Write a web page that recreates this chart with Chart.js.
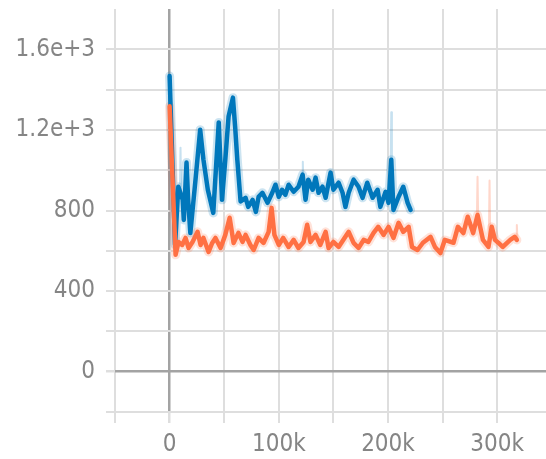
<!DOCTYPE html>
<html>
<head>
<meta charset="utf-8">
<script src="https://cdn.jsdelivr.net/npm/chart.js@4.4.0/dist/chart.umd.min.js"></script>
<style>
  html, body { margin: 0; padding: 0; background: #fff; overflow: hidden; }
  #wrap { width: 546px; height: 459px; }
</style>
</head>
<body>
<div id="wrap"><canvas id="chart" width="546" height="459"></canvas></div>
<script>
// steps are in thousands
const blueSteps = [0, 5, 8, 12, 13, 15.5, 17, 19, 24, 28, 31, 35, 40, 45, 48, 51, 54, 58, 60, 62,
  65, 69.6, 72, 76, 79, 81.5, 85, 89.7, 94, 97, 100, 103, 106, 109, 113.6, 118, 121.8, 124.5, 127, 131,
  133.7, 136.4, 140, 142.9, 147.4, 150, 154.8, 158.4, 161, 164, 168.5, 173, 176.7, 181, 185.9, 190.5,
  193, 197.8, 200.5, 203, 205, 209.7, 214, 218, 220.7];
const blueValues = [1467, 630, 918, 853, 753, 1038, 853, 688, 968, 1201, 1052, 903, 788, 1237, 853, 1052, 1266, 1360,
  1216, 1052, 845, 863, 818, 853, 793, 868, 888, 838, 888, 928, 868, 903, 878, 928, 893, 918, 978, 853, 953, 903,
  963, 888, 918, 863, 988, 903, 938, 888, 818, 888, 953, 918, 863, 938, 863, 903, 818, 893, 838, 1052, 803, 868,
  918, 838, 803];

const orangeSteps = [0, 5.5, 8.2, 11.5, 14.6, 17.4, 21, 25.6, 28.4, 31, 35.7, 39, 42, 46.7, 51, 55, 58.6, 63, 66.8,
  69.6, 74, 77, 81.5, 86, 90.7, 93.4, 96, 100, 104, 109, 113.6, 118, 122.7, 126, 129, 133.7, 138, 142.9, 145.6,
  150, 154.8, 159, 164, 168.5, 173, 177.7, 182, 186.8, 191, 196, 200.5, 205, 209.7, 214, 218.9, 222, 227, 232,
  239, 243, 248, 252, 260, 264, 269, 273, 278, 282, 287, 292, 295, 298, 301, 305, 312, 316, 318];
const orangeValues = [1317, 580, 644, 629, 664, 614, 644, 694, 629, 664, 594, 639, 664, 614, 679, 764, 639, 689, 644,
  679, 629, 604, 664, 639, 694, 813, 679, 629, 664, 619, 654, 614, 644, 729, 644, 679, 629, 694, 614, 644, 619,
  654, 694, 639, 614, 654, 644, 689, 719, 679, 719, 664, 739, 694, 719, 619, 604, 640, 669, 619, 589, 654, 640,
  719, 688, 769, 688, 778, 654, 619, 719, 654, 640, 619, 654, 669, 654];

// faint raw spikes: step, base, peak
const blueSpikeSteps = [10, 122, 203];
const blueSpikeBase = [900, 930, 1000];
const blueSpikePeak = [1112, 1042, 1287];
const orangeSpikeSteps = [282, 293, 318];
const orangeSpikeBase = [760, 680, 650];
const orangeSpikePeak = [968, 949, 728];

const xGridValues = [-50000, 0, 50000, 100000, 150000, 200000, 250000, 300000];
const yGridValues = [-200, 0, 200, 400, 600, 800, 1000, 1200, 1400, 1600];
const yLabelValues = [0, 400, 800, 1200, 1600];
const yLabelTexts = ['0', '400', '800', '1.2e+3', '1.6e+3'];
const xLabelValues = [0, 100000, 200000, 300000];
const xLabelTexts = ['0', '100k', '200k', '300k'];

function toPoints(steps, values) {
  return steps.map((s, i) => ({ x: s * 1000, y: values[i] }));
}

function toSpikes(steps, base, peak) {
  const pts = [];
  steps.forEach((s, i) => {
    pts.push({ x: (s - 0.6) * 1000, y: base[i] });
    pts.push({ x: s * 1000, y: peak[i] });
    pts.push({ x: (s + 0.6) * 1000, y: base[i] });
    pts.push({ x: (s + 0.7) * 1000, y: null });
  });
  return pts;
}

const gridLight = '#dedede';
const gridZero = '#a3a3a3';
const labelFont = { family: "'DejaVu Sans Condensed', 'Liberation Sans Narrow', 'DejaVu Sans'", size: 24 };

function lineSet(data, color, width, order) {
  return {
    data: data,
    borderColor: color,
    borderWidth: width,
    pointRadius: 0,
    spanGaps: false,
    borderJoinStyle: 'round',
    borderCapStyle: 'round',
    order: order
  };
}

new Chart(document.getElementById('chart'), {
  type: 'line',
  data: {
    datasets: [
      lineSet(toSpikes(blueSpikeSteps, blueSpikeBase, blueSpikePeak), 'rgba(0,119,187,0.22)', 2, 6),
      lineSet(toSpikes(orangeSpikeSteps, orangeSpikeBase, orangeSpikePeak), 'rgba(255,112,67,0.28)', 2, 5),
      // soft halo standing in for the noisy raw curve
      lineSet(toPoints(blueSteps, blueValues), 'rgba(0,119,187,0.2)', 9, 4),
      lineSet(toPoints(orangeSteps, orangeValues), 'rgba(255,112,67,0.2)', 9, 3),
      lineSet(toPoints(blueSteps, blueValues), '#0077bb', 4.5, 2),
      lineSet(toPoints(orangeSteps, orangeValues), '#ff7043', 4.5, 1)
    ]
  },
  options: {
    responsive: false,
    animation: false,
    layout: { padding: { top: 9, left: 0, right: 0, bottom: 0 } },
    plugins: { legend: { display: false }, tooltip: { enabled: false } },
    scales: {
      x: {
        type: 'linear',
        min: -50000,
        max: 344700,
        border: { display: false },
        grid: {
          color: ctx => (ctx.tick && ctx.tick.value === 0 ? gridZero : gridLight),
          lineWidth: ctx => (ctx.tick && ctx.tick.value === 0 ? 2.5 : 2),
          tickColor: gridLight,
          tickLength: 11
        },
        ticks: {
          autoSkip: false,
          maxRotation: 0,
          padding: 7,
          color: '#858585',
          font: labelFont,
          callback: v => {
            const i = xLabelValues.indexOf(v);
            return i >= 0 ? xLabelTexts[i] : '';
          }
        },
        afterBuildTicks: scale => {
          scale.ticks = xGridValues.map(v => ({ value: v }));
        },
        afterFit: scale => {
          scale.height = 47;
          scale.paddingLeft = 0;
          scale.paddingRight = 0;
        }
      },
      y: {
        min: -200,
        max: 1800,
        border: { display: false },
        grid: {
          color: ctx => (ctx.tick && ctx.tick.value === 0 ? gridZero : gridLight),
          lineWidth: ctx => (ctx.tick && ctx.tick.value === 0 ? 2.5 : 2),
          tickColor: gridLight,
          tickLength: 9
        },
        ticks: {
          padding: 11,
          color: '#858585',
          font: labelFont,
          callback: v => {
            const i = yLabelValues.indexOf(v);
            return i >= 0 ? yLabelTexts[i] : '';
          }
        },
        afterBuildTicks: scale => {
          scale.ticks = yGridValues.map(v => ({ value: v }));
        },
        afterFit: scale => {
          scale.width = 115;
          scale.paddingTop = 0;
          scale.paddingBottom = 0;
        }
      }
    }
  }
});
</script>
</body>
</html>
